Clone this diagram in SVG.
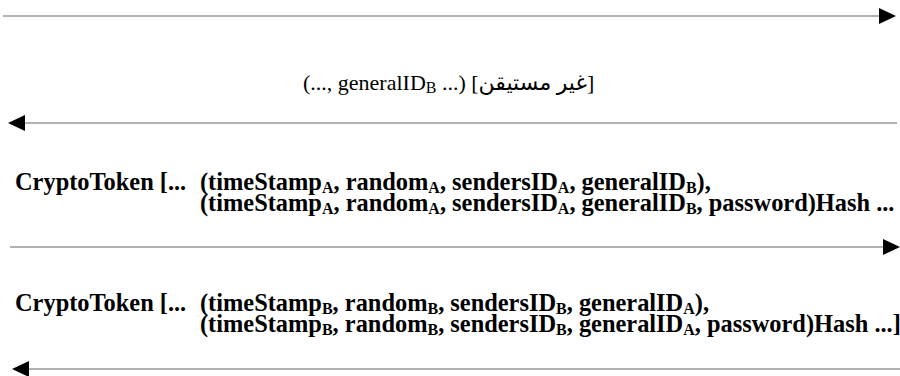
<svg xmlns="http://www.w3.org/2000/svg" width="900" height="376" viewBox="0 0 900 376">
<style>
.ln{stroke:#9a9a9a;stroke-width:1.6;fill:none}
.t{font-family:"Liberation Serif","DejaVu Sans",serif;fill:#000}
.b{font-weight:bold;font-size:24.4px}
.r{font-size:22px}
.s{font-size:16px}
</style>
<defs>
<marker id="ah" markerUnits="userSpaceOnUse" markerWidth="18" markerHeight="16" refX="0" refY="8" orient="auto">
<path d="M0,0 L17,8 L0,16 Z" fill="#000"/>
</marker>
</defs>
<g id="connectors">
<line class="ln" x1="3" y1="16" x2="879" y2="16" marker-end="url(#ah)"/>
<line class="ln" x1="897" y1="123" x2="25" y2="123" marker-end="url(#ah)"/>
<line class="ln" x1="10" y1="247" x2="883" y2="247" marker-end="url(#ah)"/>
<line class="ln" x1="900" y1="369" x2="29" y2="369" marker-end="url(#ah)"/>
</g>
<g id="label1">
<text class="t r" x="303" y="90">(..., generalID<tspan class="s" dy="3">B</tspan><tspan dy="-3"> ...) [غير مستيقن]</tspan></text>
</g>
<g id="label2">
<text class="t b" x="15" y="190">CryptoToken [...</text>
<text class="t b" x="200" y="190">(timeStamp<tspan class="s" dy="3">A</tspan><tspan dy="-3">, random</tspan><tspan class="s" dy="3">A</tspan><tspan dy="-3">, sendersID</tspan><tspan class="s" dy="3">A</tspan><tspan dy="-3">, generalID</tspan><tspan class="s" dy="3">B</tspan><tspan dy="-3">),</tspan></text>
<text class="t b" x="200" y="211">(timeStamp<tspan class="s" dy="3">A</tspan><tspan dy="-3">, random</tspan><tspan class="s" dy="3">A</tspan><tspan dy="-3">, sendersID</tspan><tspan class="s" dy="3">A</tspan><tspan dy="-3">, generalID</tspan><tspan class="s" dy="3">B</tspan><tspan dy="-3">, password)Hash ...</tspan></text>
</g>
<g id="label3">
<text class="t b" x="15" y="311">CryptoToken [...</text>
<text class="t b" x="200" y="311">(timeStamp<tspan class="s" dy="3">B</tspan><tspan dy="-3">, random</tspan><tspan class="s" dy="3">B</tspan><tspan dy="-3">, sendersID</tspan><tspan class="s" dy="3">B</tspan><tspan dy="-3">, generalID</tspan><tspan class="s" dy="3">A</tspan><tspan dy="-3">),</tspan></text>
<text class="t b" x="200" y="332">(timeStamp<tspan class="s" dy="3">B</tspan><tspan dy="-3">, random</tspan><tspan class="s" dy="3">B</tspan><tspan dy="-3">, sendersID</tspan><tspan class="s" dy="3">B</tspan><tspan dy="-3">, generalID</tspan><tspan class="s" dy="3">A</tspan><tspan dy="-3">, password)Hash ...]</tspan></text>
</g>
</svg>
